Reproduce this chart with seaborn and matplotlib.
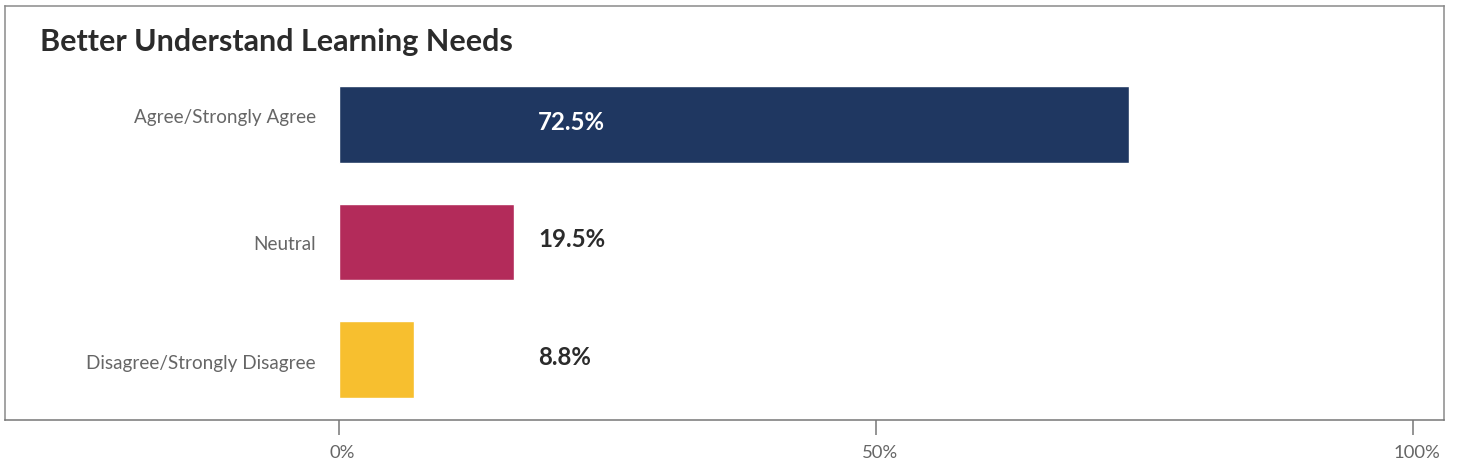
import matplotlib
matplotlib.use("Agg")
import matplotlib.pyplot as plt
from matplotlib.transforms import ScaledTranslation
import seaborn as sns
import pandas as pd

# data
categories = ["Agree/Strongly Agree", "Neutral", "Disagree/Strongly Disagree"]
bar_values = [73.6, 16.3, 7.0]          # bar lengths as drawn
value_labels = ["72.5%", "19.5%", "8.8%"]  # printed labels
colors = ["#1f3761", "#b32b5a", "#f7bf2f"]
xticks = [0, 50, 100]
xtick_labels = ["0%", "50%", "100%"]

sns.set_theme(style="white")
plt.rcParams["font.family"] = ["Lato", "DejaVu Sans"]

df = pd.DataFrame({"category": categories, "value": bar_values})

fig = plt.figure(figsize=(14.58, 4.74), dpi=100)
ax = fig.add_axes([5 / 1458, 54 / 474, 1439 / 1458, 414 / 474])

sns.barplot(data=df, x="value", y="category", hue="category",
            palette=colors, order=categories, hue_order=categories,
            width=0.655, legend=False, orient="h", ax=ax, saturation=1)

ax.set_xlim(-31.04, 102.89)
ax.set_ylim(2.515, -1.009)
ax.set_xlabel("")
ax.set_ylabel("")
ax.set_yticks([])
ax.set_xticks(xticks)
ax.set_xticklabels(xtick_labels)
ax.tick_params(axis="x", direction="out", length=11, width=1.1,
               color="#777777", labelcolor="#666666", labelsize=13.3, pad=7,
               bottom=True)
# tick labels sit a little right of their ticks in the original
for lab in ax.get_xticklabels():
    lab.set_transform(lab.get_transform() +
                      ScaledTranslation(4 / 100, 0, fig.dpi_scale_trans))

for side, sp in ax.spines.items():
    sp.set_visible(True)
    sp.set_color("#8a8a8a")
    sp.set_linewidth(1.1)
ax.spines["bottom"].set_color("#777777")

# small vertical nudges (pixels, up is positive) for the category names
name_nudge = [7, -2, -4]
for i, (cat, lab) in enumerate(zip(categories, value_labels)):
    t = ax.text(-2.1, i, cat, ha="right", va="center", fontsize=13.6,
                color="#666666")
    t.set_transform(ax.transData +
                    ScaledTranslation(0, name_nudge[i] / 100, fig.dpi_scale_trans))
    ax.text(18.57, i - 0.02, lab, ha="left", va="center", fontsize=17.3,
            fontweight="bold", color="white" if i == 0 else "#2b2b2b")

fig.text(40 / 1458, 1 - 42 / 474, "Better Understand Learning Needs",
         ha="left", va="center", fontsize=22, fontweight="bold",
         color="#2b2b2b")

fig.savefig("out.png", dpi=100)
